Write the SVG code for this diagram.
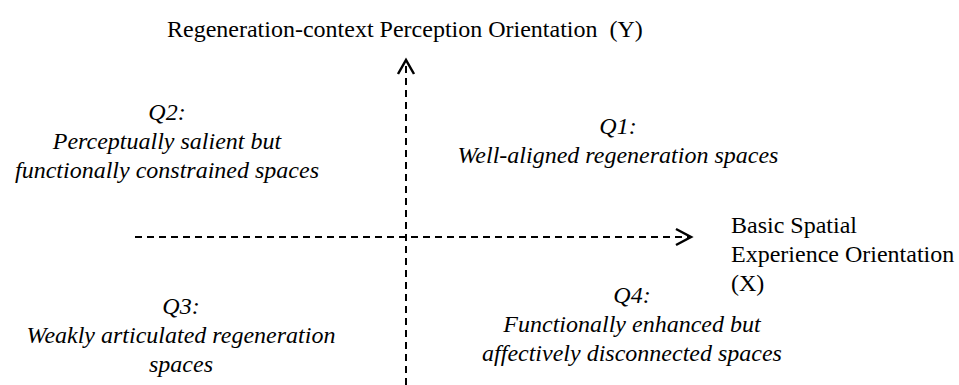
<svg xmlns="http://www.w3.org/2000/svg" width="959" height="385" viewBox="0 0 959 385">
  <style>
    text { font-family: "Liberation Serif", "Times New Roman", serif; font-size: 24px; fill: #000; white-space: pre; }
    .q { font-style: italic; text-anchor: middle; }
    .axis { stroke: #000; stroke-width: 2; stroke-dasharray: 7 5; fill: none; }
    .head { stroke: #000; stroke-width: 2.5; fill: none; }
  </style>
  <rect width="959" height="385" fill="#fff"/>
  <g id="connectors">
    <line class="axis" x1="406" y1="385" x2="406" y2="62"/>
    <polyline class="head" points="398,74 406,60 414,74"/>
    <line class="axis" x1="135" y1="237" x2="690" y2="237"/>
    <polyline class="head" points="676,229 691,237 676,245"/>
  </g>
  <g id="y-label"><text x="167" y="37" xml:space="preserve">Regeneration-context Perception Orientation  (Y)</text></g>
  <g id="x-label">
    <text x="731" y="233">Basic Spatial</text>
    <text x="731" y="262">Experience Orientation</text>
    <text x="731" y="291">(X)</text>
  </g>
  <g id="q1">
    <text class="q" x="618" y="134">Q1:</text>
    <text class="q" x="618" y="163">Well-aligned regeneration spaces</text>
  </g>
  <g id="q2">
    <text class="q" x="167" y="120">Q2:</text>
    <text class="q" x="167" y="149">Perceptually salient but</text>
    <text class="q" x="167" y="178">functionally constrained spaces</text>
  </g>
  <g id="q3">
    <text class="q" x="181" y="314">Q3:</text>
    <text class="q" x="181" y="343">Weakly articulated regeneration</text>
    <text class="q" x="181" y="372">spaces</text>
  </g>
  <g id="q4">
    <text class="q" x="632" y="303">Q4:</text>
    <text class="q" x="632" y="332">Functionally enhanced but</text>
    <text class="q" x="632" y="361">affectively disconnected spaces</text>
  </g>
</svg>
